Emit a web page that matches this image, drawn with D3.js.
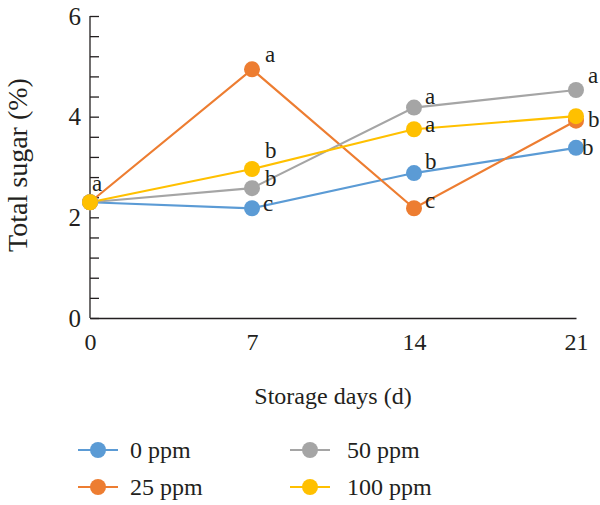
<!DOCTYPE html>
<html lang="en">
<head>
  <meta charset="UTF-8">
  <title>Total sugar</title>
  <style>
    body { margin: 0; background: #fff; }
    svg text { font-family: "Liberation Serif", "DejaVu Serif", serif; fill: #231f20; }
  </style>
</head>
<body>
  <div id="chart"></div>
  <script src="https://d3js.org/d3.v7.min.js"></script>
  <script>
    // data
    const days = [0, 7, 14, 21];
    const seriesNames = ["0 ppm", "25 ppm", "50 ppm", "100 ppm"];
    const colors = ["#5b9bd5", "#ed7d31", "#a5a5a5", "#ffc000"];
    const ppm0 = [2.3, 2.18, 2.88, 3.38];
    const ppm25 = [2.3, 4.94, 2.18, 3.92];
    const ppm50 = [2.3, 2.58, 4.18, 4.53];
    const ppm100 = [2.3, 2.96, 3.75, 4.01];
    const letters0 = ["", "c", "b", "b"];
    const letters25 = ["", "a", "c", "b"];
    const letters50 = ["", "b", "a", "a"];
    const letters100 = ["a", "b", "a", ""];
    const yTicks = [0, 2, 4, 6];

    // where each letter sits next to its point (px, [dx, dy])
    const labelNudge = [
      [[0, 0], [11, 3], [11, -4], [6, 7]],
      [[0, 0], [13, -7], [11, 0], [12, 6]],
      [[0, 0], [13, -2], [11, -4], [12, -7]],
      [[2, -11], [13, -11], [11, 3], [0, 0]]
    ];

    const series = [
      { name: seriesNames[0], color: colors[0], values: ppm0, letters: letters0 },
      { name: seriesNames[1], color: colors[1], values: ppm25, letters: letters25 },
      { name: seriesNames[2], color: colors[2], values: ppm50, letters: letters50 },
      { name: seriesNames[3], color: colors[3], values: ppm100, letters: letters100 }
    ];

    const width = 600, height = 505;
    const margin = { top: 16, right: 24, bottom: 187, left: 90 };
    const innerW = width - margin.left - margin.right;
    const innerH = height - margin.top - margin.bottom;

    const svg = d3.select('#chart').append('svg')
      .attr('width', width)
      .attr('height', height);

    const g = svg.append('g')
      .attr('transform', `translate(${margin.left},${margin.top})`);

    const x = d3.scaleLinear().domain([0, 21]).range([0, innerW]);
    const y = d3.scaleLinear().domain([0, 6]).range([innerH, 0]);

    // y axis with inward minor ticks
    g.append('g')
      .call(d3.axisRight(y).tickValues(d3.range(0, 6.01, 0.4)).tickSize(9).tickFormat(''))
      .call(a => a.selectAll('line, path').attr('stroke', '#231f20').attr('stroke-width', 1.3))
      .call(a => a.select('.domain').attr('d', `M0,0V${innerH}`));

    g.append('g')
      .call(d3.axisLeft(y).tickValues(yTicks).tickSize(0).tickPadding(9).tickFormat(d3.format('d')))
      .call(a => a.select('.domain').remove())
      .selectAll('text')
      .style('font-size', '25px');

    // x axis
    g.append('g')
      .attr('transform', `translate(0,${innerH})`)
      .call(d3.axisBottom(x).tickValues(days).tickSize(0).tickPadding(15))
      .call(a => a.select('.domain').attr('stroke', '#231f20').attr('stroke-width', 1.3))
      .selectAll('text')
      .style('font-size', '24px');

    const line = d3.line()
      .x((d, i) => x(days[i]))
      .y(d => y(d));

    series.forEach(s => {
      g.append('path')
        .datum(s.values)
        .attr('fill', 'none')
        .attr('stroke', s.color)
        .attr('stroke-width', 2.2)
        .attr('d', line);
    });

    series.forEach(s => {
      g.selectAll(null)
        .data(s.values)
        .enter()
        .append('circle')
        .attr('cx', (d, i) => x(days[i]))
        .attr('cy', d => y(d))
        .attr('r', 8)
        .attr('fill', s.color);
    });

    // significance letters
    series.forEach((s, k) => {
      const pts = s.values
        .map((v, i) => ({ v, i, letter: s.letters[i] }))
        .filter(p => p.letter !== '');
      g.selectAll(null)
        .data(pts)
        .enter()
        .append('text')
        .attr('x', p => x(days[p.i]) + labelNudge[k][p.i][0])
        .attr('y', p => y(p.v) + labelNudge[k][p.i][1])
        .style('font-size', '23px')
        .text(p => p.letter);
    });

    // axis titles
    svg.append('text')
      .attr('transform', `translate(27,${margin.top + innerH / 2 - 2}) rotate(-90)`)
      .attr('text-anchor', 'middle')
      .style('font-size', '28px')
      .text('Total sugar (%)');

    svg.append('text')
      .attr('x', 333)
      .attr('y', 404)
      .attr('text-anchor', 'middle')
      .style('font-size', '24px')
      .text('Storage days (d)');

    // legend
    const legend = svg.append('g');
    const legX = [78, 290];
    const legY = [450, 487];
    series.forEach((s, i) => {
      const col = i < 2 ? 0 : 1;
      const row = i % 2;
      const gx = legX[col], gy = legY[row];
      legend.append('line')
        .attr('x1', gx).attr('x2', gx + 40)
        .attr('y1', gy).attr('y2', gy)
        .attr('stroke', s.color).attr('stroke-width', 2.2);
      legend.append('circle')
        .attr('cx', gx + 20).attr('cy', gy).attr('r', 8)
        .attr('fill', s.color);
      legend.append('text')
        .attr('x', gx + (col === 0 ? 52 : 57))
        .attr('y', gy + 8)
        .style('font-size', '24px')
        .text(s.name);
    });
  </script>
</body>
</html>
